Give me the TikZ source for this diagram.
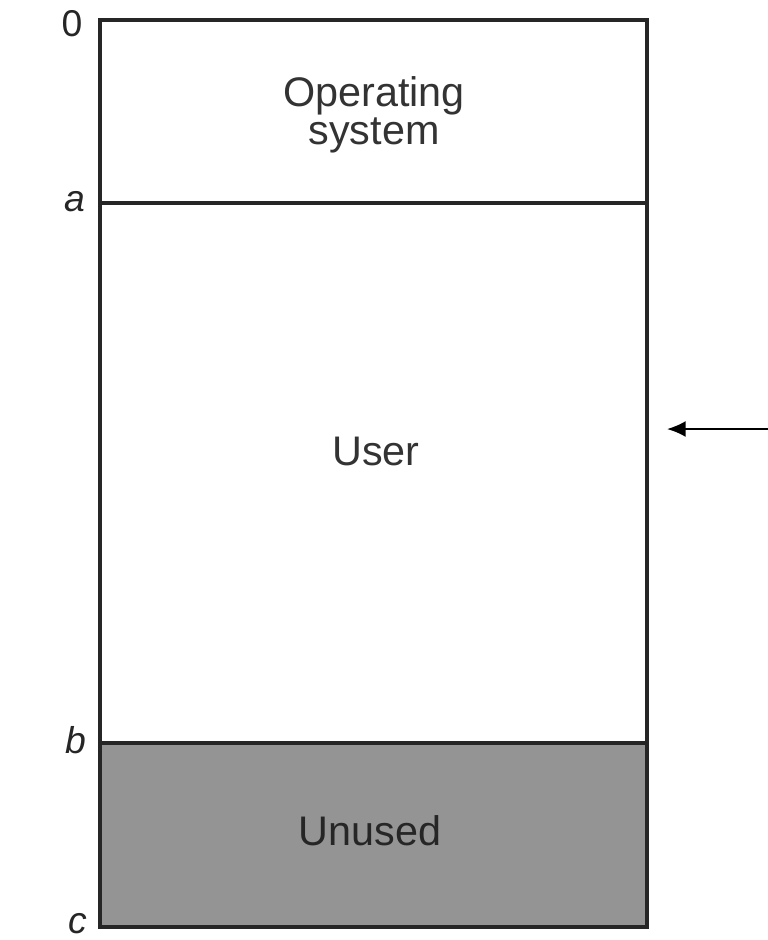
\documentclass[tikz,border=0pt]{standalone}
\usepackage{fontspec}
\setmainfont{Liberation Sans}
\usetikzlibrary{arrows.meta,fit}
\begin{document}
\begin{tikzpicture}[x=0.75pt,y=-0.75pt,
  region/.style={draw=black!85,line width=2.6pt,inner sep=0pt},
  bigtext/.style={font=\fontsize{31}{28}\selectfont,align=center,text=black!80},
  edgelabel/.style={font=\fontsize{28}{30}\selectfont,text=black!85},
  pointer/.style={line width=1.6pt,-{Latex[length=14pt,width=12pt]}}]
\useasboundingbox (0,0) rectangle (768,940);
% regions
\node[region,fit={(100,20)(647,203)}] (os) {};
\node[region,fit={(100,203)(647,743)}] (user) {};
\node[region,fill=black!42,fit={(100,743)(647,927)}] (unused) {};
% texts
\node[bigtext,anchor=base] (ostext) at (374,144) {Operating\\system};
\node[bigtext,anchor=base] (usertext) at (376,465) {User};
\node[bigtext,anchor=base,text=black!85] (unusedtext) at (370,845) {Unused};
% boundary labels
\node[edgelabel] (l0) at (72,24) {0};
\node[edgelabel] (la) at (75,202) {\itshape a};
\node[edgelabel] (lb) at (76,740) {\itshape b};
\node[edgelabel] (lc) at (78,924) {\itshape c};
% pointer
\coordinate (pstart) at (768,429);
\coordinate (ptip) at (667,429);
\draw[pointer] (pstart) -- (ptip);
\end{tikzpicture}
\end{document}
